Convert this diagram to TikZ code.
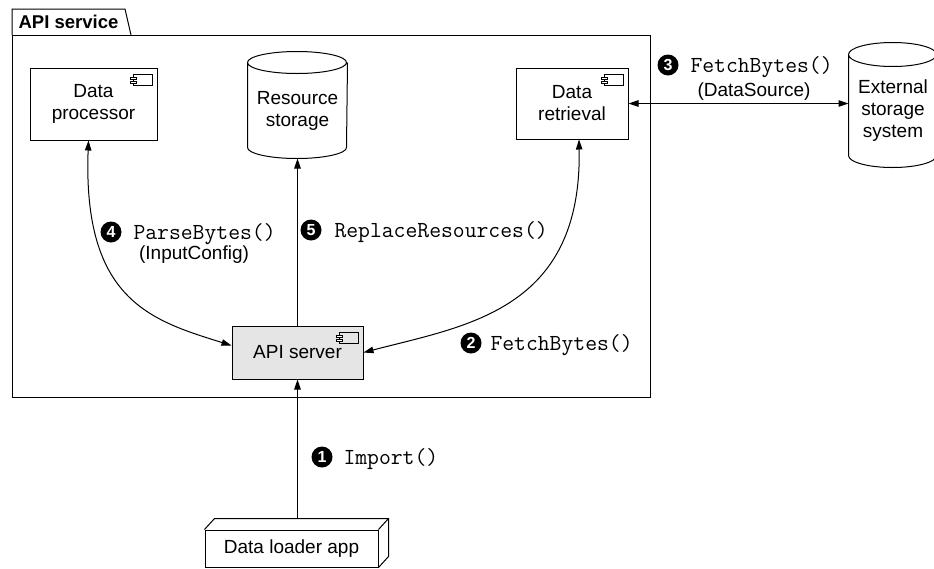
\documentclass[tikz,border=0pt]{standalone}
\usepackage{fontspec}
\setmainfont{Liberation Sans}
\usetikzlibrary{arrows.meta,positioning,calc}

% small UML component symbol in the top right corner of a node
\newcommand{\compicon}[1]{%
  \begin{scope}[shift={(#1.north east)}, line width=0.7pt]
    \draw (-24,-7) rectangle (-5,-18);
    \draw[fill=white] (-27,-9.5) rectangle (-21,-12);
    \draw[fill=white] (-27,-13.5) rectangle (-21,-16);
  \end{scope}}
% storage drum round a node: #1 node, #2 x radius, #3 y radius
\newcommand{\drum}[3]{%
  \draw ([yshift=#3]#1.north west)
    arc[start angle=180, delta angle=360, x radius=#2, y radius=#3]
    -- (#1.south west)
    arc[start angle=180, end angle=360, x radius=#2, y radius=#3]
    -- ([yshift=#3]#1.north east);}

\begin{document}
\begin{tikzpicture}[
  x=1pt, y=1pt, line width=1pt,
  txt/.style={font=\fontsize{19}{22}\selectfont},
  box/.style={draw, txt, align=center, inner sep=2pt},
  comp/.style={box, minimum width=127pt, minimum height=72pt},
  store/.style={txt, align=center, inner sep=0pt},
  num/.style={circle, fill=black, text=white, inner sep=0pt, minimum size=21pt,
              font=\bfseries\fontsize{16}{16}\selectfont},
  call/.style={inner sep=0pt, text height=14pt, text depth=0pt,
               font=\ttfamily\fontsize{23}{23}\selectfont},
  note/.style={txt, inner sep=0pt},
  arr/.style={-{Triangle[length=10pt,width=6.5pt]}},
  dbl/.style={{Triangle[length=10pt,width=6.5pt]}-{Triangle[length=10pt,width=6.5pt]}},
]
  \useasboundingbox (0,0) rectangle (934,-568);

  % package frame
  \node[font=\bfseries\fontsize{18.5}{18.5}\selectfont, minimum width=112pt,
        minimum height=25pt, inner sep=0pt, anchor=south west] (tab) at (12,-35) {API service};
  \draw (tab.south west) |- (tab.north east) -- ([xshift=6pt]tab.south east);
  \coordinate (fcorner) at (650,-397);
  \draw (tab.south west) rectangle (fcorner);

  \node[comp] (proc) at (93.5,-104) {Data\\processor};
  \node[comp, minimum width=112pt, minimum height=71pt] (retr) at (572,-103.5) {Data\\retrieval};
  \node[store, minimum width=99pt, minimum height=73pt] (res) at (297.5,-110.5) {Resource\\storage};
  \node[store, minimum width=88pt, minimum height=88pt] (ext) at (893,-111) {External\\storage\\system};
  \node[box, fill=gray!20, minimum width=131pt, minimum height=53pt] (api) at (297.5,-352.5) {API server};
  \node[box, minimum width=173pt, minimum height=37pt] (loader) at (291.5,-548.5) {Data loader app};

  \compicon{proc}
  \compicon{retr}
  \compicon{api}
  \drum{res}{49.5pt}{11pt}
  \drum{ext}{44pt}{12pt}

  % loader box depth
  \draw (loader.north west) -- ++(10,11) -| ([shift={(10pt,11pt)}]loader.south east) -- (loader.south east);
  \draw (loader.north east) -- ++(10,11);
  \coordinate (ldtop) at ($(loader.north -| api.south)+(0,11)$);

  \draw[arr] (ldtop) -- (api.south);
  \draw[arr] (api) -- ([yshift=-11pt]res.south);
  \draw[dbl] (retr.east) -- (retr.east -| ext.west);
  \draw[dbl] ([xshift=-5pt]proc.south) .. controls +(-6,-160) and +(-80,25) .. ([yshift=7pt]api.west);
  \draw[dbl] ([xshift=7pt]retr.south) .. controls +(3,-171) and +(103,27) .. (api.east);

  % numbered calls
  \node[num] (n1) at (322,-457) {1};
  \node[call, right=10pt of n1] (imp) {Import()};
  \node[num] (n2) at (471,-343) {2};
  \node[call, right=8pt of n2] (fb2) {FetchBytes()};
  \node[num] (n3) at (668,-65) {3};
  \node[call, right=11pt of n3] (fb3) {FetchBytes()};
  \node[note] (dsrc) at (754,-92) {(DataSource)};
  \node[num] (n4) at (111,-232) {4};
  \node[call, right=11pt of n4] (pb) {ParseBytes()};
  \node[note] (icfg) at (194,-255) {(InputConfig)};
  \node[num] (n5) at (311,-230) {5};
  \node[call, right=12pt of n5] (rr) {ReplaceResources()};
\end{tikzpicture}
\end{document}
